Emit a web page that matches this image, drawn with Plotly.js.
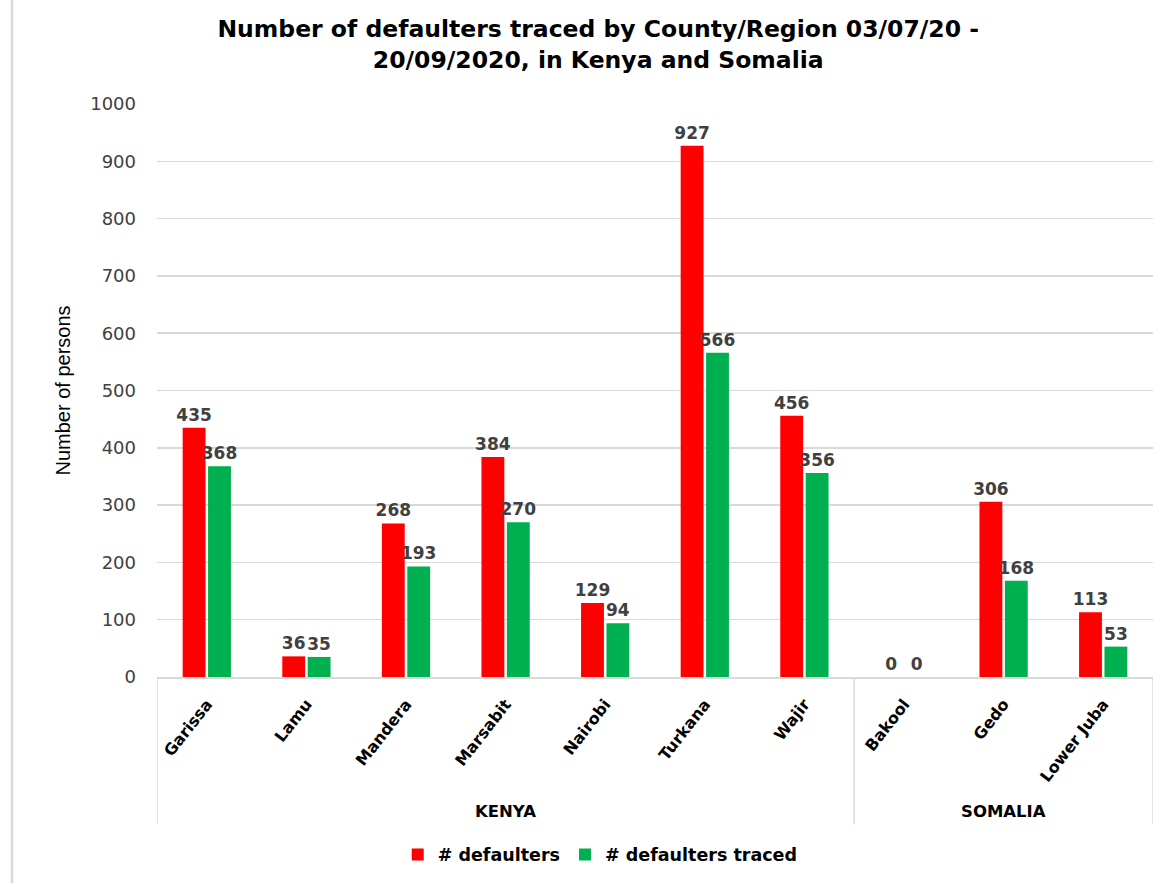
<!DOCTYPE html>
<html>
<head>
<meta charset="utf-8">
<script src="https://cdn.plot.ly/plotly-3.0.1.min.js"></script>
<style>
html,body{margin:0;padding:0;background:#fff;}
#chart{width:1168px;height:885px;}
</style>
</head>
<body>
<div id="chart"></div>
<script>
// ---- data ----
const categories = ['Garissa','Lamu','Mandera','Marsabit','Nairobi','Turkana','Wajir','Bakool','Gedo','Lower Juba'];
const countries  = ['KENYA','KENYA','KENYA','KENYA','KENYA','KENYA','KENYA','SOMALIA','SOMALIA','SOMALIA'];
const defaulters = [435, 36, 268, 384, 129, 927, 456, 0, 306, 113];
const defaultersTraced = [368, 35, 193, 270, 94, 566, 356, 0, 168, 53];
const seriesNames = ['# defaulters', '# defaulters traced'];
const yTicks = [0,100,200,300,400,500,600,700,800,900,1000];

// ---- build groups from the country list ----
const groups = [];
countries.forEach((c, i) => {
  if (!groups.length || groups[groups.length-1].name !== c) groups.push({name: c, start: i, end: i});
  else groups[groups.length-1].end = i;
});

const labelFont = {family: 'DejaVu Sans', size: 17, color: '#404040', weight: 'bold'};

const traces = [
  {type:'bar', name: seriesNames[0], x: categories, y: defaulters,
   marker:{color:'#FF0000'}, text: defaulters.map(String), textposition:'outside',
   textfont: labelFont, cliponaxis:false, constraintext:'none'},
  {type:'bar', name: seriesNames[1], x: categories, y: defaultersTraced,
   marker:{color:'#00B050'}, text: defaultersTraced.map(String), textposition:'outside',
   textfont: labelFont, cliponaxis:false, constraintext:'none'}
];

const lineCol = '#d9d9d9';
const shapes = [];
const annotations = [];
// dividers at group boundaries
const bounds = [groups[0].start - 0.5].concat(groups.map(g => g.end + 0.5));
bounds.forEach(b => {
  shapes.push({type:'line', xref:'x', yref:'paper', x0:b, x1:b, y0:-0.257, y1:0,
               line:{color:lineCol, width:1.5}});
});
groups.forEach(g => {
  annotations.push({xref:'x', yref:'paper', x:(g.start+g.end)/2, y:-0.234, text:g.name,
    showarrow:false, yanchor:'middle',
    font:{family:'DejaVu Sans', size:16.5, color:'#000', weight:'bold'}});
});
// outer chart border (left)
shapes.push({type:'line', xref:'paper', yref:'paper', x0:-0.1456, x1:-0.1456, y0:-0.36, y1:1.2,
             line:{color:lineCol, width:2.5}});

const layout = {
  width:1168, height:885,
  margin:{l:157, r:15, t:104, b:205},
  paper_bgcolor:'#fff', plot_bgcolor:'#fff',
  title:{text:'Number of defaulters traced by County/Region 03/07/20 -<br>20/09/2020, in Kenya and Somalia',
         x:0.443, xref:'paper', xanchor:'center', y:0.958, yref:'container', yanchor:'middle',
         font:{family:'DejaVu Sans', size:23.5, color:'#000', weight:'bold'}},
  barmode:'group', bargap:0.49, bargroupgap:0.1,
  xaxis:{type:'category', tickangle:-52, showgrid:false, showline:true, linecolor:lineCol, linewidth:1.5,
         ticks:'', ticklabelstandoff:10,
         tickfont:{family:'DejaVu Sans', size:16, color:'#000', weight:'bold'},
         range:[-0.5, categories.length-0.5], fixedrange:true},
  yaxis:{range:[0,1000], tickvals:yTicks, ticktext:yTicks.map(String), showgrid:true, gridcolor:lineCol, gridwidth:1.5,
         zeroline:false, showline:false, ticks:'', ticklabelstandoff:20,
         tickfont:{family:'DejaVu Sans', size:18, color:'#404040'},
         title:{text:'Number of persons', standoff:14, font:{family:'Liberation Sans', size:20, color:'#000'}}},
  showlegend:true,
  legend:{orientation:'h', x:0.445, xref:'paper', xanchor:'center', y:-0.31, yanchor:'middle',
          font:{family:'DejaVu Sans', size:17.5, color:'#000', weight:'bold'}, itemwidth:30, traceorder:'normal'},
  shapes: shapes, annotations: annotations
};

Plotly.newPlot('chart', traces, layout, {displayModeBar:false, staticPlot:true});
</script>
</body>
</html>
